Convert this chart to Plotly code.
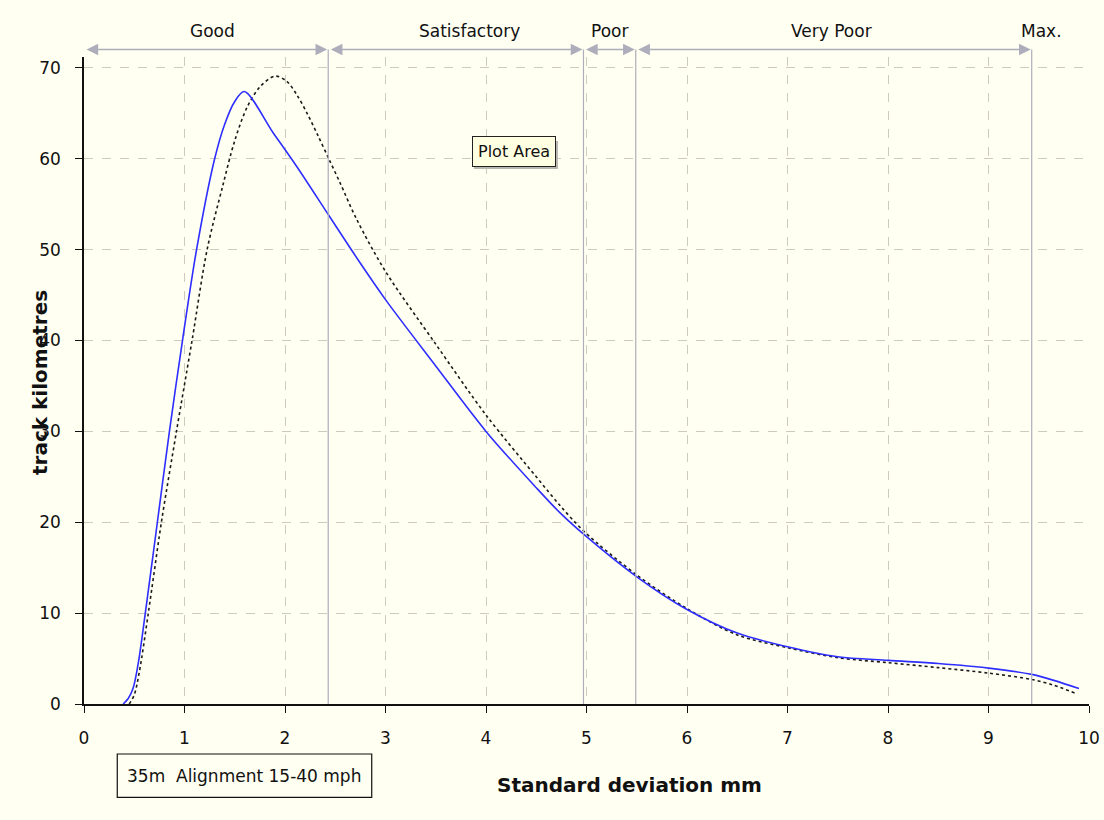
import plotly.graph_objects as go

# Track-quality distribution: standard deviation (mm) vs track kilometres
sd_blue = [0.39, 0.44, 0.49, 0.54, 0.61, 0.73, 0.85, 0.98, 1.12, 1.30, 1.40, 1.50,
           1.595, 1.88, 2.12, 2.44, 2.75, 3.0, 3.5, 4.0, 4.5, 4.74, 4.98, 5.5, 6.0,
           6.5, 7.0, 7.5, 8.0, 8.5, 9.0, 9.43, 9.65, 9.9]
km_blue = [0, 0.6, 1.8, 4.5, 10, 20, 30, 40, 50, 60, 63.8, 66.3,
           67.4, 62.9, 59.1, 53.7, 48.5, 44.5, 37.2, 30.0, 23.8, 21.0, 18.6, 14.0, 10.4,
           7.8, 6.3, 5.2, 4.8, 4.45, 3.95, 3.26, 2.6, 1.7]

sd_dash = [0.45, 0.5, 0.55, 0.64, 0.77, 0.92, 1.075, 1.225, 1.38, 1.50, 1.62, 1.75,
           1.90, 2.02, 2.12, 2.22, 2.33, 2.44, 2.55, 2.71, 3.0, 3.5, 4.0, 4.5, 4.74,
           4.98, 5.5, 6.0, 6.5, 7.0, 7.5, 8.0, 8.5, 9.0, 9.43, 9.64, 9.86]
km_dash = [0, 1.0, 3.5, 10, 20, 30, 40, 50, 57.0, 62.0, 65.6, 67.9,
           69.1, 68.5, 67.0, 65.0, 62.5, 59.9, 57.3, 53.4, 47.6, 39.6, 31.8, 25.0, 21.8,
           18.95, 14.2, 10.5, 7.6, 6.2, 5.1, 4.55, 4.0, 3.4, 2.7, 2.1, 1.2]

# Condition bands along the top of the chart
band_names = ["Good", "Satisfactory", "Poor", "Very Poor", "Max."]
band_label_x = [1.28, 3.84, 5.23, 7.44, 9.53]
band_edges = [0.0, 2.43, 4.97, 5.49, 9.43]

x_ticks = list(range(0, 11))
y_ticks = list(range(0, 71, 10))

FONT = "DejaVu Sans"
BG = "#fffff2"
BAND_COLOR = "#adadbb"

fig = go.Figure()

fig.add_trace(go.Scatter(
    x=sd_dash, y=km_dash, mode="lines",
    line=dict(color="#1a1a1a", width=1.6, dash="3px,3px", shape="spline", smoothing=0.9),
    showlegend=False, hoverinfo="skip"))
fig.add_trace(go.Scatter(
    x=sd_blue, y=km_blue, mode="lines",
    line=dict(color="#2e2eff", width=1.6, shape="spline", smoothing=0.9),
    showlegend=False, hoverinfo="skip"))

arrow_y = 1.0116
shapes = []
annotations = []

# vertical band boundaries
for edge in band_edges[1:]:
    shapes.append(dict(type="line", xref="x", yref="paper", x0=edge, x1=edge,
                       y0=0, y1=arrow_y, line=dict(color=BAND_COLOR, width=1.2)))

# double-headed arrows spanning each band
for a, b in zip(band_edges[:-1], band_edges[1:]):
    annotations.append(dict(
        x=b, y=arrow_y, xref="x", yref="paper",
        ax=a, ay=0, axref="x", ayref="pixel",
        text="", showarrow=True, arrowside="end+start",
        arrowhead=2, startarrowhead=2, arrowsize=1.8, startarrowsize=1.8,
        arrowwidth=1.3, arrowcolor=BAND_COLOR, standoff=1, startstandoff=1))

# band names
for name, bx in zip(band_names, band_label_x):
    annotations.append(dict(x=bx, y=1.040, xref="x", yref="paper", text=name,
                            showarrow=False, xanchor="center", yanchor="middle",
                            font=dict(family=FONT, size=17, color="#111")))

# axis titles
annotations.append(dict(x=0.543, y=-0.1252, xref="paper", yref="paper",
                        text="<b>Standard deviation mm</b>", showarrow=False,
                        xanchor="center", yanchor="middle",
                        font=dict(family=FONT, size=20, color="#111")))
annotations.append(dict(x=-0.0438, y=0.4977, xref="paper", yref="paper",
                        text="<b>track kilometres</b>", showarrow=False, textangle=-90,
                        xanchor="center", yanchor="middle",
                        font=dict(family=FONT, size=20, color="#111")))

# "Plot Area" tooltip with a soft drop shadow
shapes.append(dict(type="rect", xref="paper", yref="paper",
                   x0=0.388, x1=0.4716, y0=0.8270, y1=0.8702,
                   line=dict(width=0), fillcolor="#b8b8b0", layer="above"))
annotations.append(dict(x=0.428, y=0.8547, xref="paper", yref="paper",
                        text="Plot Area", showarrow=False,
                        xanchor="center", yanchor="middle",
                        bgcolor="#ffffe1", bordercolor="#222", borderwidth=1, borderpad=5,
                        font=dict(family=FONT, size=16, color="#111")))

# caption box
shapes.append(dict(type="rect", xref="paper", yref="paper",
                   x0=0.0331, x1=0.2863, y0=-0.1442, y1=-0.0773,
                   line=dict(color="#111", width=1.2), fillcolor=BG))
annotations.append(dict(x=(0.0331 + 0.2863) / 2, y=(-0.1442 - 0.0773) / 2,
                        xref="paper", yref="paper",
                        text="35m\u00a0 Alignment 15-40 mph", showarrow=False,
                        xanchor="center", yanchor="middle",
                        font=dict(family=FONT, size=17, color="#111")))

axis_common = dict(
    showline=True, linecolor="#111", linewidth=1.5,
    ticks="outside", ticklen=7, tickwidth=1.3, tickcolor="#111",
    ticklabelstandoff=11, automargin=False,
    showgrid=True, gridcolor="#cdcbbd", griddash="dash", gridwidth=1,
    zeroline=False, tickfont=dict(family=FONT, size=17, color="#111"))

fig.update_layout(
    width=1104, height=820, autosize=False,
    margin=dict(l=84, r=15, t=57, b=116),
    paper_bgcolor=BG, plot_bgcolor=BG,
    font=dict(family=FONT, size=17, color="#111"),
    shapes=shapes, annotations=annotations,
    xaxis=dict(range=[0, 10], tickvals=x_ticks, ticktext=[str(v) for v in x_ticks],
               **axis_common),
    yaxis=dict(range=[0, 71.2], tickvals=y_ticks, ticktext=[str(v) for v in y_ticks],
               **axis_common),
)

fig.write_html("out.html")
